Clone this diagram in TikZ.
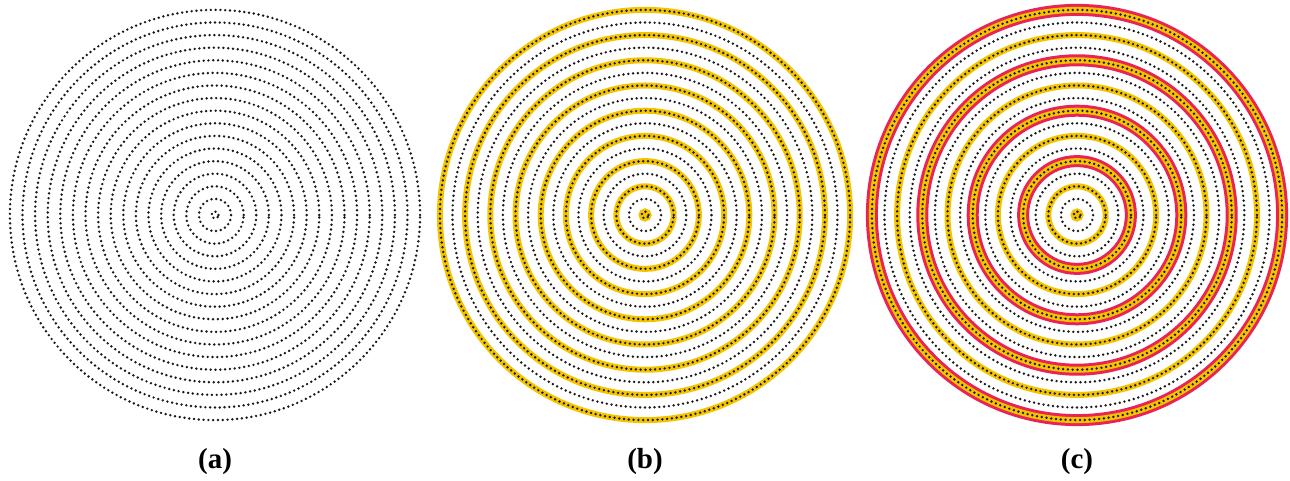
\documentclass[tikz,border=0pt]{standalone}
\usepackage{fontspec}
\setmainfont{Liberation Serif}
\usetikzlibrary{positioning}
\definecolor{ringyellow}{RGB}{245, 196, 0}
\definecolor{ringred}{RGB}{232, 36, 84}

\begin{document}
\begin{tikzpicture}[x=0.5pt, y=0.5pt,
    dotring/.style={line width=1.35pt, dash pattern=on 0pt off 2.4pt, line cap=round, black!90},
    yellowband/.style={ringyellow, line width=3pt},
    redband/.style={ringred, line width=6pt},
    panellabel/.style={font=\bfseries\fontsize{14.5}{16}\selectfont}]
    \useasboundingbox (0,0) rectangle (1290,481);

    % Panel (a): plain dotted rings
    \foreach \k in {0,...,16}
        \draw[dotring] (215,266) circle ({3.5+12.6*\k});

    % Panel (b): every other ring in yellow
    \foreach \k in {0,2,...,16}
        \draw[yellowband] (645,266) circle ({3.5+12.6*\k});
    \foreach \k in {0,...,16}
        \draw[dotring] (645,266) circle ({3.5+12.6*\k});

    % Panel (c): every fourth ring also in red
    \foreach \k in {4,8,12,16}
        \draw[redband] (1077,266) circle ({3.5+12.6*\k});
    \foreach \k in {0,2,...,16}
        \draw[yellowband] (1077,266) circle ({3.5+12.6*\k});
    \foreach \k in {0,...,16}
        \draw[dotring] (1077,266) circle ({3.5+12.6*\k});

    % Labels
    \node[panellabel] (la) at (215,19) {(a)};
    \node[panellabel] (lb) at (645,19) {(b)};
    \node[panellabel] (lc) at (1077,19) {(c)};
\end{tikzpicture}
\end{document}
